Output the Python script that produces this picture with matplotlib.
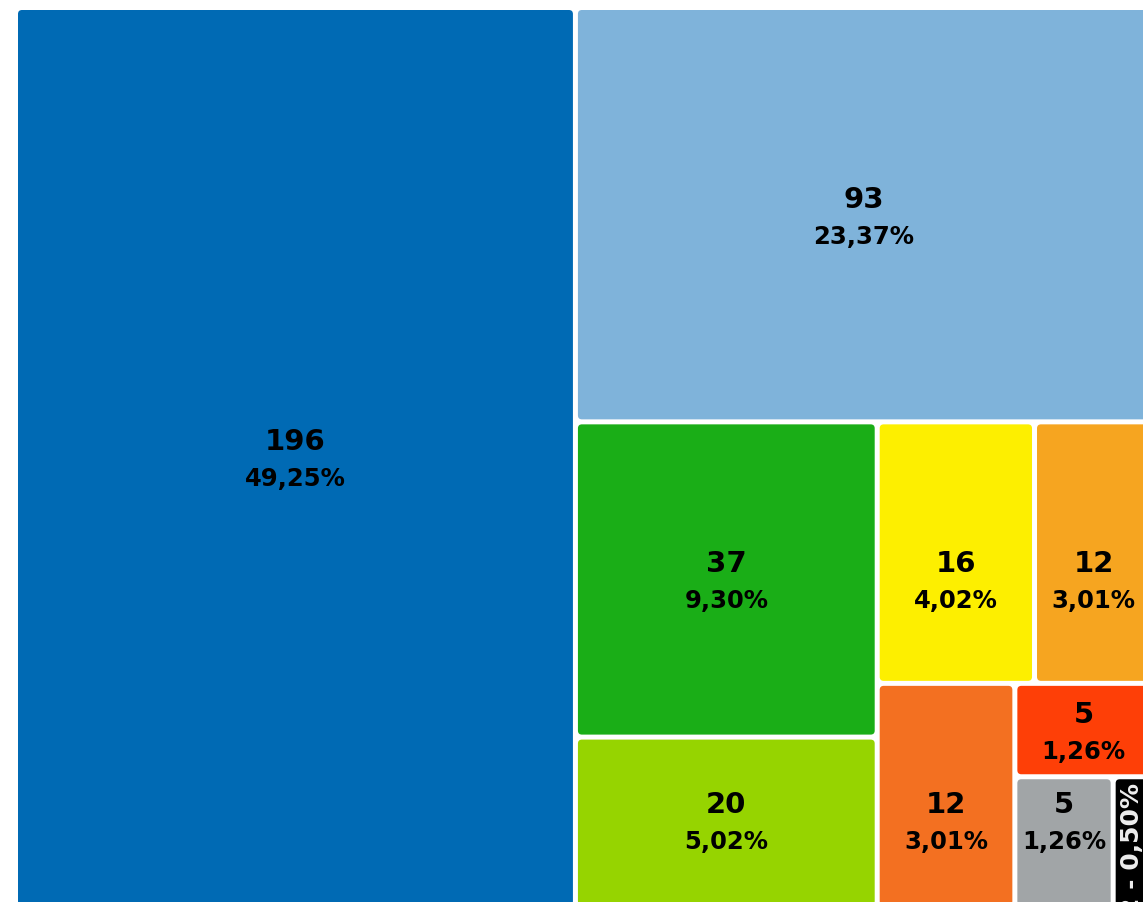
import matplotlib
matplotlib.use("Agg")
import matplotlib.pyplot as plt
from matplotlib.patches import FancyBboxPatch

# ---------------------------------
# DATA
# ---------------------------------
values = [196, 93, 37, 20, 16, 12, 12, 5, 5, 2]
percents = [49.25, 23.37, 9.30, 5.02, 4.02, 3.01, 3.01, 1.26, 1.26, 0.50]
colors = ["#006ab4", "#7fb3da", "#1aae17", "#96d400", "#fdef00",
          "#f6a520", "#f37021", "#fe3f07", "#a1a5a7", "#000000"]


# ---------------------------------
# SQUARIFIED LAYOUT
# ---------------------------------
def squarify(vals, x0, y0, x1, y1, ratio=1.2):
    rects = []
    total = float(sum(vals))
    i0, n = 0, len(vals)
    while i0 < n:
        dx, dy = x1 - x0, y1 - y0
        s = vals[i0]
        mn = mx = s
        i1 = i0 + 1
        alpha = max(dy / dx, dx / dy) / (total * ratio)
        beta = s * s * alpha
        best = max(mx / beta, beta / mn)
        while i1 < n:
            v = vals[i1]
            s2 = s + v
            beta = s2 * s2 * alpha
            r = max(max(mx, v) / beta, beta / min(mn, v))
            if r > best:
                break
            s, mn, mx, best = s2, min(mn, v), max(mx, v), r
            i1 += 1
        row = vals[i0:i1]
        if dx < dy:
            yb = y0 + dy * s / total
            xc = x0
            for v in row:
                w = dx * v / s
                rects.append((xc, y0, xc + w, yb))
                xc += w
            y0 = yb
        else:
            xb = x0 + dx * s / total
            yc = y0
            for v in row:
                h = dy * v / s
                rects.append((x0, yc, xb, yc + h))
                yc += h
            x0 = xb
        total -= s
        i0 = i1
    return rects


W, H = 1143, 903
X0, Y0, X1, Y1 = 15.5, 8.5, 1152.5, 908.5
pad = 2.5

fig = plt.figure(figsize=(W / 100, H / 100), dpi=100)
ax = fig.add_axes([0, 0, 1, 1])
ax.set_xlim(0, W)
ax.set_ylim(H, 0)
ax.axis("off")

rects = squarify(values, X0, Y0, X1, Y1)

# label line for each box: boxes on the bottom edge share one line,
# inner boxes sharing a top edge follow the biggest one
label_cy = []
bottom = [i for i, r in enumerate(rects)
          if abs(r[3] - Y1) < 1 and r[1] > Y0 + 1 and (r[2] - r[0]) > 60]
bottom_cy = sum((rects[i][1] + rects[i][3]) / 2 for i in bottom) / len(bottom)
for i, r in enumerate(rects):
    if i in bottom:
        label_cy.append(bottom_cy)
        continue
    big = i
    if r[1] > Y0 + 1:
        same_top = [j for j, q in enumerate(rects)
                    if abs(q[1] - r[1]) < 1 and j not in bottom]
        big = min(same_top)
    label_cy.append((rects[big][1] + rects[big][3]) / 2)

font = ["DejaVu Sans"]

for (x0, y0, x1, y1), v, p, c, cy in zip(rects, values, percents, colors, label_cy):
    ax.add_patch(FancyBboxPatch((x0 + pad, y0 + pad), x1 - x0 - 2 * pad, y1 - y0 - 2 * pad,
                                boxstyle="round,pad=0,rounding_size=4",
                                facecolor=c, edgecolor="none"))
    cx = (x0 + x1) / 2
    pct = f"{p:.2f}".replace(".", ",") + "%"
    if x1 - x0 < 60:
        ax.text(cx - 1, y0 + pad + 3, f"{v} - {pct}", rotation=90, ha="center", va="top",
                color="#eeeeee", fontsize=18, fontweight="bold", family=font)
        continue
    ax.text(cx, cy - 16, str(v), ha="center", va="center",
            fontsize=21, fontweight="bold", family=font, color="black")
    ax.text(cx, cy + 21, pct, ha="center", va="center",
            fontsize=17.5, fontweight="bold", family=font, color="black")

fig.savefig("out.png", dpi=100, facecolor="white")
